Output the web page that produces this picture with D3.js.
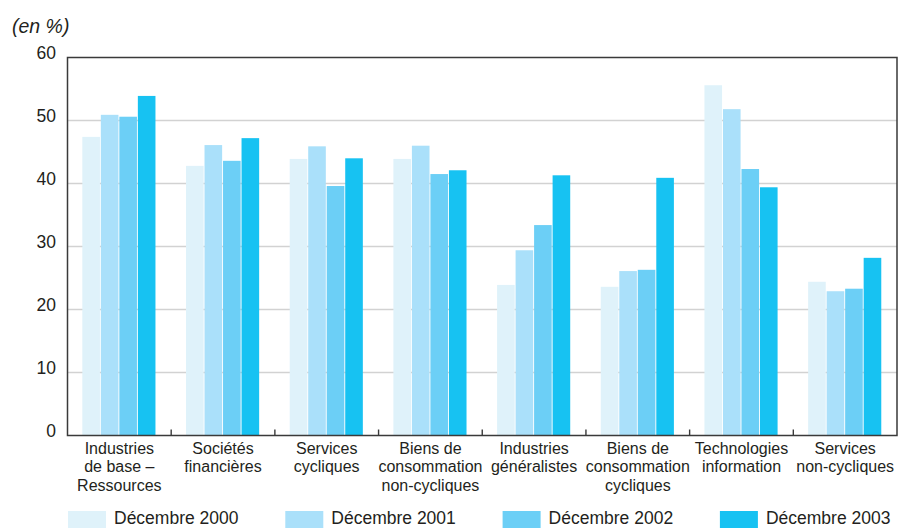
<!DOCTYPE html>
<html>
<head>
<meta charset="utf-8">
<script src="https://cdn.jsdelivr.net/npm/d3@7"></script>
<style>
  body { margin: 0; background: #fff; }
  svg text { font-family: "Liberation Sans", Arial, sans-serif; fill: #231f20; }
</style>
</head>
<body>
<div class="graph"></div>
<script>
var categories = [
  ["Industries", "de base –", "Ressources"],
  ["Sociétés", "financières"],
  ["Services", "cycliques"],
  ["Biens de", "consommation", "non-cycliques"],
  ["Industries", "généralistes"],
  ["Biens de", "consommation", "cycliques"],
  ["Technologies", "information"],
  ["Services", "non-cycliques"]
];
var seriesNames = ["Décembre 2000", "Décembre 2001", "Décembre 2002", "Décembre 2003"];
var dec2000 = [47.4, 42.8, 43.9, 43.9, 23.9, 23.6, 55.6, 24.4];
var dec2001 = [50.9, 46.1, 45.9, 46.0, 29.4, 26.1, 51.8, 22.9];
var dec2002 = [50.6, 43.6, 39.6, 41.5, 33.4, 26.3, 42.3, 23.3];
var dec2003 = [53.9, 47.2, 44.0, 42.1, 41.3, 40.9, 39.4, 28.2];
var yTicks = [0, 10, 20, 30, 40, 50, 60];
var colors = ["#dff2fa", "#aae0fa", "#6ccff6", "#17c2f2"];

var series = [dec2000, dec2001, dec2002, dec2003];
var W = 898, H = 528;
var plotLeft = 67.5, plotRight = 897, plotTop = 57.5, plotBottom = 435.5;

var svg = d3.select(".graph").append("svg").attr("width", W).attr("height", H);

var x0 = d3.scaleBand().domain(d3.range(categories.length))
  .range([plotLeft, plotRight]).paddingInner(0.286).paddingOuter(0.143);
var x1 = d3.scaleBand().domain(d3.range(series.length)).range([0, x0.bandwidth()]);
var y = d3.scaleLinear().domain([0, 60]).range([plotBottom, plotTop]);

// gridlines
svg.append("g").selectAll("line").data(yTicks.filter(function(t){ return t > 0 && t < 60; }))
  .enter().append("line")
  .attr("x1", plotLeft).attr("x2", plotRight)
  .attr("y1", function(d){ return y(d); }).attr("y2", function(d){ return y(d); })
  .style("stroke", "#d2d2d2").style("stroke-width", "1.6px");

// bars
var groups = svg.append("g").selectAll("g").data(categories).enter().append("g")
  .attr("transform", function(d, i){ return "translate(" + x0(i) + ",0)"; });
groups.selectAll("rect").data(function(d, i){ return series.map(function(s){ return s[i]; }); })
  .enter().append("rect")
  .attr("x", function(d, j){ return x1(j); })
  .attr("width", x1.bandwidth() - 0.9)
  .attr("y", function(d){ return y(d); })
  .attr("height", function(d){ return y(0) - y(d); })
  .style("fill", function(d, j){ return colors[j]; });

// frame
svg.append("path")
  .attr("d", "M" + plotLeft + "," + plotBottom + "V" + plotTop + "H" + plotRight + "V" + plotBottom + "Z")
  .style("fill", "none").style("stroke", "#3a3a3a").style("stroke-width", "1.5px");

// category separators
svg.append("g").selectAll("line").data(d3.range(1, categories.length)).enter().append("line")
  .attr("x1", function(i){ return x0(i) - x0.step() * x0.paddingInner() / 2; })
  .attr("x2", function(i){ return x0(i) - x0.step() * x0.paddingInner() / 2; })
  .attr("y1", plotBottom).attr("y2", plotBottom - 6)
  .style("stroke", "#3a3a3a").style("stroke-width", "1.4px");

// y tick labels
svg.append("g").selectAll("text").data(yTicks).enter().append("text")
  .attr("x", 56).attr("y", function(d){ return y(d) + 1; })
  .attr("text-anchor", "end").style("font-size", "17.5px")
  .text(function(d){ return d; });

svg.append("text").attr("x", 12).attr("y", 33)
  .style("font-size", "19.5px").style("font-style", "italic").text("(en %)");

// category labels
var labels = svg.append("g").selectAll("text").data(categories).enter().append("text")
  .attr("text-anchor", "middle").style("font-size", "16px")
  .attr("transform", function(d, i){ return "translate(" + (x0(i) + x0.bandwidth() / 2) + ",454)"; });
labels.selectAll("tspan").data(function(d){ return d; }).enter().append("tspan")
  .attr("x", 0).attr("y", function(d, k){ return k * 18.3; })
  .text(function(d){ return d; });

// legend
var leg = svg.append("g").selectAll("g").data(seriesNames).enter().append("g")
  .attr("transform", function(d, i){ return "translate(" + (68 + i * 217.3) + ",0)"; });
leg.append("rect").attr("x", 0).attr("y", 511).attr("width", 38).attr("height", 17)
  .style("fill", function(d, i){ return colors[i]; });
leg.append("text").attr("x", 46).attr("y", 524).style("font-size", "17.5px")
  .text(function(d){ return d; });
</script>
</body>
</html>
